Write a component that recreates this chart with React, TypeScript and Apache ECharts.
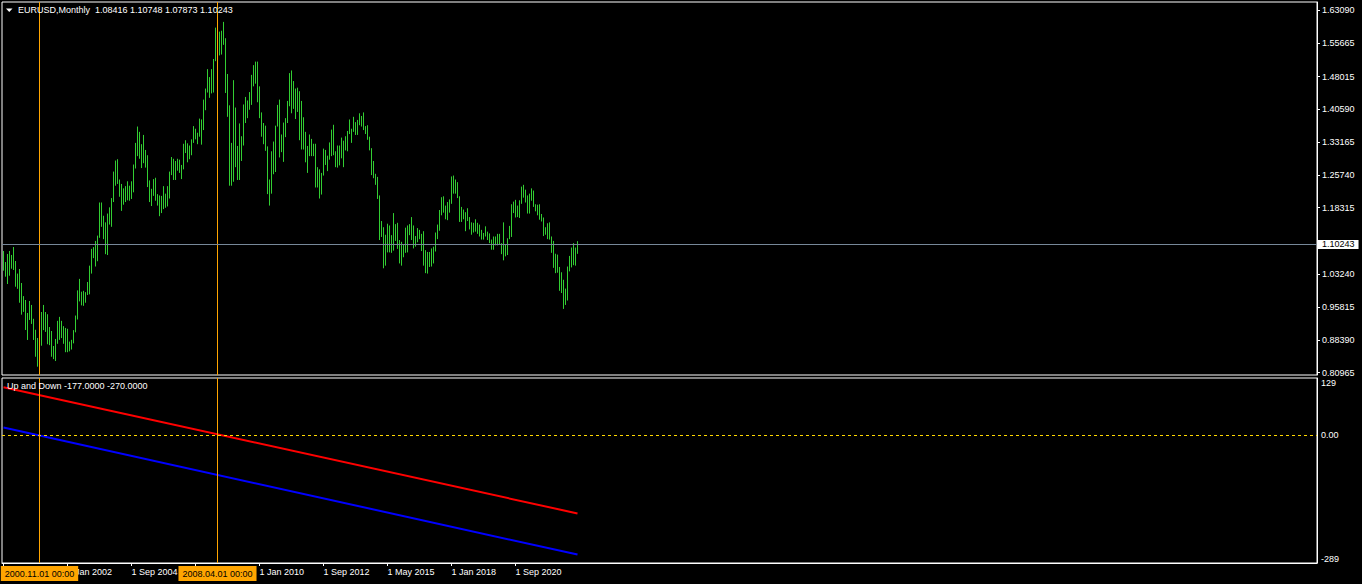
import React, { useEffect, useRef } from "react";
import * as echarts from "echarts";

// ---- data -------------------------------------------------------------
const symbolTitle = "EURUSD,Monthly";
const firstYear = 1999;
const firstMonth = 5; // first visible bar: May 1999, monthly bars

// monthly highs, May 1999 .. Apr 2023
const highs = [
  // 1999 (May-Dec)
  1.0852, 1.0602, 1.0784, 1.0852, 1.0762, 1.0942, 1.0625, 1.034,
  // 2000
  1.0444, 1.0127, 0.983, 0.9742, 0.9448, 0.972, 0.963, 0.9317, 0.9068, 0.8882, 0.872, 0.947,
  // 2001
  0.963, 0.947, 0.942, 0.913, 0.904, 0.87, 0.886, 0.927, 0.936, 0.927, 0.915, 0.911,
  // 2002
  0.909, 0.88, 0.884, 0.906, 0.939, 0.996, 1.022, 0.993, 0.995, 0.992, 1.015, 1.052,
  // 2003
  1.09, 1.094, 1.108, 1.12, 1.195, 1.195, 1.165, 1.15, 1.17, 1.184, 1.205, 1.265,
  // 2004
  1.29, 1.293, 1.247, 1.237, 1.227, 1.232, 1.243, 1.233, 1.243, 1.281, 1.33, 1.367,
  // 2005
  1.355, 1.327, 1.348, 1.314, 1.302, 1.245, 1.226, 1.248, 1.251, 1.214, 1.211, 1.21,
  // 2006
  1.232, 1.215, 1.232, 1.265, 1.298, 1.294, 1.289, 1.294, 1.292, 1.28, 1.328, 1.336,
  // 2007
  1.329, 1.324, 1.338, 1.368, 1.362, 1.353, 1.385, 1.383, 1.428, 1.453, 1.497, 1.479,
  // 2008
  1.497, 1.52, 1.591, 1.602, 1.582, 1.584, 1.604, 1.567, 1.486, 1.415, 1.33, 1.472,
  // 2009
  1.41, 1.323, 1.374, 1.345, 1.417, 1.434, 1.426, 1.445, 1.484, 1.506, 1.514, 1.514,
  // 2010
  1.458, 1.399, 1.375, 1.369, 1.322, 1.247, 1.311, 1.333, 1.369, 1.416, 1.428, 1.349,
  // 2011
  1.376, 1.386, 1.425, 1.488, 1.494, 1.47, 1.453, 1.455, 1.447, 1.425, 1.388, 1.355,
  // 2012
  1.323, 1.349, 1.339, 1.328, 1.328, 1.275, 1.27, 1.262, 1.317, 1.314, 1.301, 1.331,
  // 2013
  1.36, 1.371, 1.311, 1.324, 1.324, 1.342, 1.335, 1.345, 1.357, 1.383, 1.362, 1.389,
  // 2014
  1.377, 1.382, 1.397, 1.391, 1.399, 1.368, 1.37, 1.344, 1.318, 1.289, 1.26, 1.253,
  // 2015
  1.211, 1.153, 1.139, 1.122, 1.147, 1.143, 1.121, 1.171, 1.146, 1.149, 1.11, 1.106,
  // 2016
  1.099, 1.138, 1.143, 1.146, 1.162, 1.143, 1.119, 1.137, 1.133, 1.124, 1.13, 1.087,
  // 2017
  1.083, 1.083, 1.091, 1.095, 1.127, 1.145, 1.178, 1.207, 1.209, 1.188, 1.196, 1.202,
  // 2018
  1.254, 1.256, 1.247, 1.241, 1.209, 1.185, 1.179, 1.173, 1.182, 1.162, 1.15, 1.149,
  // 2019
  1.157, 1.149, 1.145, 1.133, 1.126, 1.141, 1.129, 1.125, 1.111, 1.118, 1.118, 1.124,
  // 2020
  1.124, 1.103, 1.15, 1.099, 1.114, 1.142, 1.191, 1.197, 1.201, 1.188, 1.2, 1.231,
  // 2021
  1.235, 1.224, 1.211, 1.215, 1.227, 1.222, 1.191, 1.19, 1.191, 1.169, 1.161, 1.139,
  // 2022
  1.148, 1.15, 1.118, 1.108, 1.079, 1.077, 1.049, 1.037, 1.02, 1.0, 1.05, 1.074,
  // 2023 (Jan-Apr)
  1.093, 1.103, 1.093, 1.10748,
];

// monthly lows, May 1999 .. Apr 2023
const lows = [
  // 1999 (May-Dec)
  1.0406, 1.027, 1.0104, 1.0292, 1.0451, 1.0422, 1.0043, 0.9995,
  // 2000
  0.968, 0.941, 0.9473, 0.9063, 0.8837, 0.929, 0.92, 0.8837, 0.8457, 0.8232, 0.838, 0.8707,
  // 2001
  0.906, 0.902, 0.874, 0.872, 0.8457, 0.8403, 0.836, 0.875, 0.884, 0.888, 0.875, 0.856,
  // 2002
  0.856, 0.858, 0.862, 0.876, 0.901, 0.93, 0.971, 0.962, 0.961, 0.968, 0.9855, 0.987,
  // 2003
  1.034, 1.069, 1.05, 1.062, 1.115, 1.14, 1.112, 1.078, 1.076, 1.145, 1.14, 1.196,
  // 2004
  1.233, 1.237, 1.208, 1.176, 1.19, 1.196, 1.2, 1.199, 1.203, 1.218, 1.272, 1.3,
  // 2005
  1.294, 1.273, 1.284, 1.274, 1.23, 1.196, 1.187, 1.21, 1.199, 1.188, 1.164, 1.171,
  // 2006
  1.18, 1.183, 1.186, 1.204, 1.257, 1.246, 1.246, 1.267, 1.262, 1.248, 1.27, 1.307,
  // 2007
  1.286, 1.293, 1.302, 1.33, 1.338, 1.327, 1.344, 1.326, 1.359, 1.404, 1.444, 1.432,
  // 2008
  1.442, 1.444, 1.515, 1.545, 1.528, 1.53, 1.552, 1.443, 1.389, 1.233, 1.233, 1.242,
  // 2009
  1.275, 1.246, 1.246, 1.289, 1.324, 1.375, 1.386, 1.405, 1.416, 1.458, 1.464, 1.422,
  // 2010
  1.386, 1.344, 1.327, 1.312, 1.214, 1.188, 1.215, 1.259, 1.264, 1.367, 1.297, 1.309,
  // 2011
  1.287, 1.343, 1.375, 1.413, 1.397, 1.407, 1.384, 1.4, 1.336, 1.315, 1.315, 1.286,
  // 2012
  1.262, 1.3, 1.3, 1.3, 1.229, 1.229, 1.204, 1.213, 1.256, 1.28, 1.266, 1.292,
  // 2013
  1.3, 1.302, 1.275, 1.274, 1.279, 1.295, 1.275, 1.313, 1.311, 1.35, 1.33, 1.355,
  // 2014
  1.348, 1.348, 1.37, 1.367, 1.359, 1.35, 1.337, 1.313, 1.257, 1.25, 1.235, 1.203,
  // 2015
  1.11, 1.117, 1.046, 1.052, 1.082, 1.082, 1.081, 1.086, 1.108, 1.09, 1.057, 1.052,
  // 2016
  1.071, 1.081, 1.082, 1.121, 1.11, 1.091, 1.095, 1.105, 1.112, 1.085, 1.052, 1.035,
  // 2017
  1.034, 1.049, 1.05, 1.057, 1.084, 1.112, 1.131, 1.166, 1.172, 1.157, 1.155, 1.172,
  // 2018
  1.192, 1.215, 1.215, 1.205, 1.151, 1.151, 1.157, 1.13, 1.153, 1.134, 1.122, 1.127,
  // 2019
  1.129, 1.124, 1.118, 1.111, 1.111, 1.118, 1.11, 1.103, 1.088, 1.088, 1.098, 1.098,
  // 2020
  1.099, 1.078, 1.064, 1.073, 1.076, 1.112, 1.117, 1.171, 1.161, 1.162, 1.16, 1.192,
  // 2021
  1.206, 1.195, 1.17, 1.17, 1.199, 1.185, 1.175, 1.166, 1.156, 1.152, 1.119, 1.122,
  // 2022
  1.112, 1.111, 1.081, 1.047, 1.035, 1.036, 0.995, 0.99, 0.954, 0.963, 0.973, 1.039,
  // 2023 (Jan-Apr)
  1.048, 1.053, 1.052, 1.07873,
];

const lastOpen = 1.08416;
const lastClose = 1.10243;

// price-axis tick labels (right scale of the main window)
const priceTicks = [0.80965, 0.8839, 0.95815, 1.0324, 1.18315, 1.2574, 1.33165, 1.4059, 1.48015, 1.55665, 1.6309];

// "Up and Down" indicator: two straight lines (first bar, last bar)
const upLine = [
  [0, 108],
  [287, -177],
];
const downLine = [
  [0, 17],
  [287, -270],
];
const indicatorTicks = [-289, 0, 129];

// time-axis ticks (bar indexes), labelled ticks, and the two vertical lines (bar indexes)
const timeTickIndex = [0, 32, 64, 96, 128, 160, 192, 224, 256];
const timeLabelIndex = [32, 64, 128, 160, 192, 224, 256]; // 0 and 96 sit under the line labels
const crossIndex = [18, 107];

// ---- helpers ----------------------------------------------------------
const MONTHS = ["Jan", "Feb", "Mar", "Apr", "May", "Jun", "Jul", "Aug", "Sep", "Oct", "Nov", "Dec"];
function barDate(i: number) {
  const m0 = firstMonth - 1 + Math.round(i);
  return { y: firstYear + Math.floor(m0 / 12), m: m0 % 12 };
}
function timeLabel(i: number) {
  const d = barDate(i);
  return "1 " + MONTHS[d.m] + " " + d.y;
}
function crossLabel(i: number) {
  const d = barDate(i);
  return d.y + "." + String(d.m + 1).padStart(2, "0") + ".01 00:00";
}

const FONT = '"Liberation Sans", Arial, sans-serif';
const BAR_COLOR = "#32cd32";
const CROSS_COLOR = "#ffa500";

export default function App() {
  const ref = useRef<HTMLDivElement>(null);

  useEffect(() => {
    if (!ref.current) return;
    const chart = echarts.init(ref.current, undefined, { renderer: "svg" });
    const n = highs.length;
    const barData = highs.map((h, i) => [i, lows[i], h]);

    // x scale: 2 px per bar
    const xMin = -0.75;
    const xMax = xMin + 1315 / 2;
    // y scale of price window
    const pxPerUnit = 441.6;
    const yMax = 1.6309 + 8 / pxPerUnit;
    const yMin = yMax - 373 / pxPerUnit;

    const lastHigh = highs[n - 1];
    const lastLow = lows[n - 1];
    const headText =
      symbolTitle +
      "  " +
      [lastOpen, lastHigh, lastLow, lastClose].map((v) => v.toFixed(5)).join(" ");
    const indText =
      "Up and Down " +
      upLine[upLine.length - 1][1].toFixed(4) +
      " " +
      downLine[downLine.length - 1][1].toFixed(4);

    const axisText = { color: "#ffffff", fontSize: 9, fontFamily: FONT };

    const option: any = {
      animation: false,
      backgroundColor: "#000000",
      textStyle: { fontFamily: FONT },
      title: [
        {
          text: headText,
          left: 18,
          top: 4,
          padding: 0,
          textStyle: { color: "#ffffff", fontSize: 9, fontWeight: "normal", fontFamily: FONT, lineHeight: 11 },
        },
        {
          text: indText,
          left: 7,
          top: 380,
          padding: 0,
          textStyle: { color: "#ffffff", fontSize: 9, fontWeight: "normal", fontFamily: FONT, lineHeight: 11 },
        },
      ],
      graphic: [
        {
          type: "polygon",
          shape: { points: [[6, 8.5], [12.5, 8.5], [9.25, 12]] },
          style: { fill: "#ffffff" },
          z: 10,
        },
      ],
      grid: [
        { left: 2, top: 2, width: 1315, height: 373, show: true, borderColor: "#ffffff", borderWidth: 1, backgroundColor: "transparent" },
        { left: 2, top: 378, width: 1315, height: 185, show: true, borderColor: "#ffffff", borderWidth: 1, backgroundColor: "transparent" },
      ],
      xAxis: [
        {
          type: "value",
          gridIndex: 0,
          min: xMin,
          max: xMax,
          show: false,
          axisLine: { onZero: false },
          splitLine: { show: false },
        },
        {
          type: "value",
          gridIndex: 1,
          min: xMin,
          max: xMax,
          position: "bottom",
          axisLine: { show: true, onZero: false, lineStyle: { color: "#ffffff", width: 1 } },
          axisTick: { show: true, customValues: timeTickIndex, length: 3, lineStyle: { color: "#ffffff" } },
          axisLabel: {
            ...axisText,
            customValues: timeLabelIndex,
            formatter: (v: number) => timeLabel(v),
            align: "left",
            margin: 4,
            showMinLabel: true,
            showMaxLabel: true,
          },
          splitLine: { show: false },
        },
      ],
      yAxis: [
        {
          type: "value",
          gridIndex: 0,
          position: "right",
          min: yMin,
          max: yMax,
          axisLine: { show: true, onZero: false, lineStyle: { color: "#ffffff", width: 1 } },
          axisTick: { show: true, customValues: priceTicks, length: 3, lineStyle: { color: "#ffffff" } },
          axisLabel: {
            ...axisText,
            customValues: priceTicks,
            formatter: (v: number) => v.toFixed(5),
            margin: 5,
          },
          splitLine: { show: false },
        },
        {
          type: "value",
          gridIndex: 1,
          position: "right",
          min: indicatorTicks[0],
          max: indicatorTicks[indicatorTicks.length - 1],
          axisLine: { show: true, onZero: false, lineStyle: { color: "#ffffff", width: 1 } },
          axisTick: { show: false },
          axisLabel: {
            ...axisText,
            customValues: indicatorTicks,
            formatter: (v: number) => (v === 0 ? "0.00" : String(v)),
            margin: 4,
            verticalAlignMinLabel: "bottom",
            verticalAlignMaxLabel: "top",
          },
          splitLine: { show: false },
        },
      ],
      series: [
        {
          type: "custom",
          name: "EURUSD",
          xAxisIndex: 0,
          yAxisIndex: 0,
          data: barData,
          encode: { x: 0, y: [1, 2] },
          clip: true,
          renderItem: (_params: any, api: any) => {
            const i = api.value(0);
            const p1 = api.coord([i, api.value(1)]);
            const p2 = api.coord([i, api.value(2)]);
            return {
              type: "line",
              shape: { x1: p1[0], y1: p1[1], x2: p2[0], y2: p2[1] },
              style: { stroke: BAR_COLOR, lineWidth: 1 },
            };
          },
          markLine: {
            silent: true,
            symbol: ["none", "none"],
            animation: false,
            data: [
              ...crossIndex.map((ci) => ({
                xAxis: ci,
                lineStyle: { color: CROSS_COLOR, width: 1, type: "solid" },
                label: { show: false },
              })),
              {
                yAxis: lastClose,
                lineStyle: { color: "#778899", width: 1, type: "solid" },
                label: {
                  show: true,
                  position: "end",
                  distance: 1,
                  formatter: () => lastClose.toFixed(5),
                  color: "#000000",
                  backgroundColor: "#ffffff",
                  fontSize: 9,
                  fontFamily: FONT,
                  lineHeight: 9,
                  padding: [0, 4, 0, 4],
                },
              },
            ],
          },
          z: 2,
        },
        {
          type: "line",
          name: "Up",
          xAxisIndex: 1,
          yAxisIndex: 1,
          data: upLine,
          showSymbol: false,
          symbol: "none",
          lineStyle: { color: "#ff0000", width: 2 },
          markLine: {
            silent: true,
            symbol: ["none", "none"],
            animation: false,
            data: [
              {
                yAxis: 0,
                lineStyle: { color: "#ffd700", width: 1, type: [3, 3] },
                label: { show: false },
              },
              ...crossIndex.map((ci) => ({
                xAxis: ci,
                lineStyle: { color: CROSS_COLOR, width: 1, type: "solid" },
                label: {
                  show: true,
                  position: "start",
                  distance: 3,
                  formatter: () => crossLabel(ci),
                  color: "#000000",
                  backgroundColor: CROSS_COLOR,
                  fontSize: 9,
                  fontFamily: FONT,
                  lineHeight: 11,
                  padding: [2, 4, 2, 4],
                },
              })),
            ],
          },
          z: 3,
        },
        {
          type: "line",
          name: "Down",
          xAxisIndex: 1,
          yAxisIndex: 1,
          data: downLine,
          showSymbol: false,
          symbol: "none",
          lineStyle: { color: "#0000ff", width: 2 },
          z: 3,
        },
      ],
    };

    chart.setOption(option);
    return () => chart.dispose();
  }, []);

  return (
    <div
      ref={ref}
      style={{ position: "fixed", left: 0, top: 0, width: 1362, height: 584, background: "#000" }}
    />
  );
}
